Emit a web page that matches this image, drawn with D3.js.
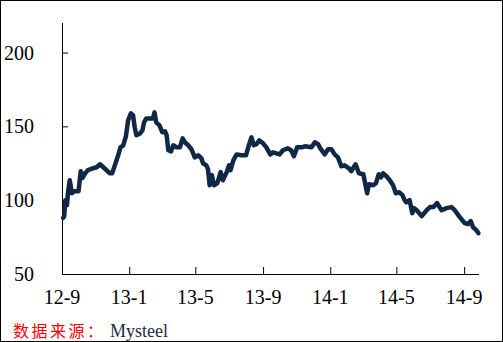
<!DOCTYPE html>
<html>
<head>
<meta charset="utf-8">
<script src="https://cdn.jsdelivr.net/npm/d3@7"></script>
<style>
  body { margin: 0; background: #fff; }
  svg { display: block; }
</style>
</head>
<body>
<svg id="chart" width="503" height="342"></svg>
<script>
// price series
const dates = [
  "2012-09-03","2012-09-05","2012-09-07","2012-09-10","2012-09-12","2012-09-15","2012-09-19","2012-09-23",
  "2012-10-01","2012-10-05","2012-10-08","2012-10-13","2012-10-18","2012-10-27","2012-11-03","2012-11-09",
  "2012-11-15","2012-11-27","2012-12-01","2012-12-06","2012-12-12","2012-12-16","2012-12-21","2012-12-26",
  "2012-12-30","2013-01-04","2013-01-08","2013-01-11","2013-01-14","2013-01-20","2013-01-25","2013-01-28",
  "2013-02-01","2013-02-13","2013-02-16","2013-02-19","2013-02-25","2013-03-02","2013-03-07","2013-03-10",
  "2013-03-13","2013-03-18","2013-03-22","2013-03-28","2013-04-03","2013-04-08","2013-04-12","2013-04-18",
  "2013-04-24","2013-04-30","2013-05-06","2013-05-12","2013-05-15","2013-05-21","2013-05-24","2013-05-27",
  "2013-05-31","2013-06-04","2013-06-10","2013-06-16","2013-06-20","2013-06-27","2013-07-01","2013-07-04",
  "2013-07-09","2013-07-15","2013-07-24","2013-08-01","2013-08-05","2013-08-11","2013-08-15","2013-08-20",
  "2013-08-25","2013-09-01","2013-09-07","2013-09-14","2013-09-19","2013-10-01","2013-10-07","2013-10-16",
  "2013-10-22","2013-10-27","2013-11-02","2013-11-10","2013-11-16","2013-11-28","2013-12-04","2013-12-10",
  "2013-12-14","2013-12-22","2013-12-28","2014-01-03","2014-01-09","2014-01-15","2014-01-21","2014-01-27",
  "2014-02-04","2014-02-08","2014-02-16","2014-02-22","2014-03-02","2014-03-06","2014-03-09","2014-03-12",
  "2014-03-20","2014-03-25","2014-03-30","2014-04-03","2014-04-07","2014-04-13","2014-04-19","2014-04-25",
  "2014-04-30","2014-05-06","2014-05-12","2014-05-16","2014-05-19","2014-05-25","2014-05-30","2014-06-02",
  "2014-06-07","2014-06-16","2014-06-25","2014-07-01","2014-07-07","2014-07-14","2014-07-22","2014-07-31",
  "2014-08-09","2014-08-15","2014-08-24","2014-09-02","2014-09-08","2014-09-13","2014-09-17","2014-09-23",
  "2014-09-27"
];
const values = [
  88, 89, 100, 96.6, 105.4, 113.5, 104.7, 106,
  106, 119.6, 115, 118.2, 120.3, 121.6, 122.3, 124.3,
  122.3, 118.2, 118.2, 123.6, 130.4, 135.8, 137, 143.2,
  154, 158.8, 157.5, 149.3, 144, 145, 147.3, 152.7,
  155.4, 155.4, 159.5, 152.7, 150.7, 146, 146.6, 144,
  133.8, 133, 137.2, 135.8, 135.8, 141.9, 139.2, 137.2,
  134.5, 129, 130.4, 128.4, 125, 123.6, 121, 110.1,
  117, 110.1, 111.5, 119, 113.5, 119, 123.6, 120.3,
  127, 131, 130.4, 130.4, 135.8, 142.6, 137.2, 137.9,
  140.5, 138.5, 135.8, 131, 132.4, 131, 133.8, 135.1,
  133.8, 129.7, 135.8, 135.8, 136.5, 135.8, 139.2, 137.9,
  135.1, 131, 134.5, 134.5, 131, 129, 123, 123.6,
  121.6, 119.6, 124.3, 118.2, 117.6, 110.1, 104.7, 110.8,
  110.1, 111.5, 117.6, 115.5, 118.2, 116.2, 113.5, 110.1,
  104.7, 105.4, 103.4, 100, 98.6, 100, 91.2, 94.6,
  93.2, 89.2, 93.2, 95.3, 95.3, 98, 93.2, 94.6,
  95.3, 93.2, 88.5, 84.5, 83.8, 85.8, 81.8, 79.7,
  77.7
];
const xTickDates = ["2012-09-01","2013-01-01","2013-05-01","2013-09-01","2014-01-01","2014-05-01","2014-09-01"];
const xTickLabels = ["12-9","13-1","13-5","13-9","14-1","14-5","14-9"];
const yTicks = [50, 100, 150, 200];
const yDomain = [50, 220];
const xDomain = ["2012-09-01", "2014-09-28"];

const parse = d3.timeParse("%Y-%m-%d");
const data = dates.map((d, i) => ({ date: parse(d), value: values[i] }));

const svg = d3.select("#chart");
const W = 503, H = 342;
const plotLeft = 62, plotRight = 479, plotTop = 23, plotBottom = 274;

// outer frame
svg.append("rect")
    .attr("x", 0.5).attr("y", 0.5)
    .attr("width", W - 1).attr("height", H - 1)
    .attr("fill", "#fff").attr("stroke", "#000");

const x = d3.scaleTime().domain(xDomain.map(parse)).range([plotLeft, plotRight]);
const y = d3.scaleLinear().domain(yDomain).range([plotBottom, plotTop]);

const labelFont = "'Liberation Serif', 'Times New Roman', serif";

// y axis
const yAxis = d3.axisRight(y).tickValues(yTicks).tickSize(6).tickFormat("");
const gy = svg.append("g")
    .attr("transform", "translate(" + plotLeft + ",0)")
    .call(yAxis);
gy.select(".domain").attr("d", "M0.5," + plotTop + "V" + (plotBottom + 0.5)).attr("stroke", "#000");
gy.selectAll(".tick line").attr("stroke", "#000");

svg.append("g").selectAll("text")
    .data(yTicks)
    .join("text")
    .attr("x", 34)
    .attr("y", d => y(d))
    .attr("dy", "0.35em")
    .attr("text-anchor", "end")
    .style("font-family", labelFont)
    .style("font-size", "20px")
    .attr("fill", "#000")
    .text(d => d);

// x axis
const xAxis = d3.axisTop(x).tickValues(xTickDates.map(parse)).tickSize(7).tickFormat("");
const gx = svg.append("g")
    .attr("transform", "translate(0," + plotBottom + ")")
    .call(xAxis);
gx.select(".domain").attr("d", "M" + plotLeft + ",0.5H" + plotRight).attr("stroke", "#000");
gx.selectAll(".tick line").attr("stroke", "#000");

svg.append("g").selectAll("text")
    .data(xTickDates)
    .join("text")
    .attr("x", d => x(parse(d)))
    .attr("y", 297)
    .attr("dy", "0.35em")
    .attr("text-anchor", "middle")
    .style("font-family", labelFont)
    .style("font-size", "20px")
    .attr("fill", "#000")
    .text((d, i) => xTickLabels[i]);

// the series
const line = d3.line()
    .x(d => x(d.date))
    .y(d => y(d.value));

svg.append("path")
    .datum(data)
    .attr("d", line)
    .attr("fill", "none")
    .attr("stroke", "#102845")
    .attr("stroke-width", 4.5)
    .attr("stroke-linejoin", "round")
    .attr("stroke-linecap", "round");

// source note
svg.append("text")
    .attr("x", 13).attr("y", 337)
    .style("font-family", "'Noto Sans CJK SC', sans-serif")
    .style("font-size", "16px")
    .style("letter-spacing", "2.5px")
    .attr("fill", "#ff0000")
    .text("数据来源：");

svg.append("text")
    .attr("x", 110).attr("y", 337)
    .style("font-family", labelFont)
    .style("font-size", "18px")
    .attr("fill", "#1f2a44")
    .text("Mysteel");
</script>
</body>
</html>
